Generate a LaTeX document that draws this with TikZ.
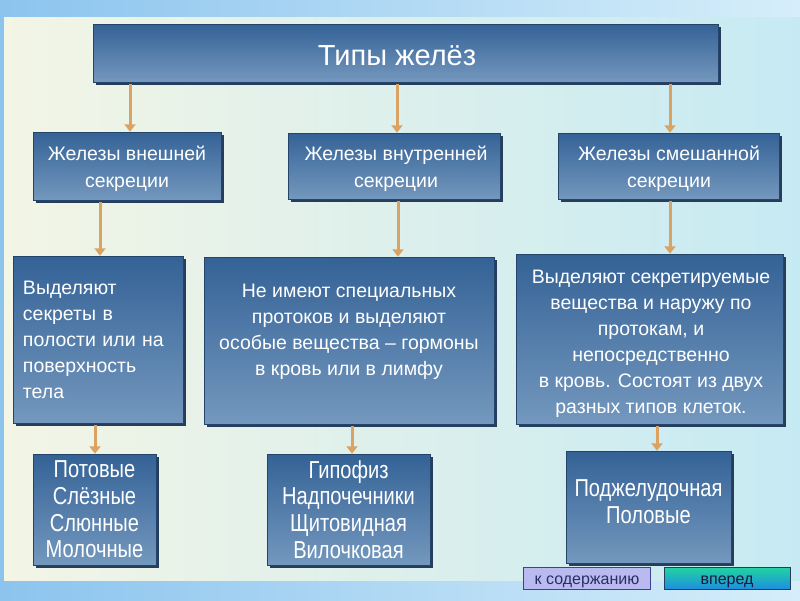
\documentclass[tikz,border=0pt]{standalone}
\usepackage{fontspec}
\setmainfont{Liberation Sans}
\newfontfamily\narrowfont[FakeStretch=0.82]{Liberation Sans}
\usetikzlibrary{arrows.meta,shadows}
\definecolor{boxtop}{RGB}{52,98,150}
\definecolor{boxbot}{RGB}{116,152,190}
\definecolor{shadowc}{RGB}{38,62,92}
\definecolor{arrowc}{RGB}{218,163,100}
\definecolor{outerL}{RGB}{140,196,238}
\definecolor{outerR}{RGB}{214,238,250}
\definecolor{panelL}{RGB}{243,245,229}
\definecolor{panelR}{RGB}{198,234,243}
\definecolor{btnone}{RGB}{184,186,240}
\definecolor{btnoneb}{RGB}{64,64,144}
\definecolor{btntop}{RGB}{34,212,160}
\definecolor{btnbot}{RGB}{30,142,224}
\tikzset{
  gbox/.style={rectangle, top color=boxtop, bottom color=boxbot, draw=boxtop!70!black, line width=0.5pt,
    text=white, inner sep=0pt, align=center,
    drop shadow={shadow xshift=2.5pt, shadow yshift=-2.5pt, opacity=1, fill=shadowc}},
  wtext/.style={text=white, align=center, inner sep=0pt},
  titlefont/.style={font=\fontsize{29}{34}\selectfont},
  midfont/.style={font=\fontsize{19.5}{27}\selectfont},
  bodyfont/.style={font=\fontsize{19.5}{26}\selectfont},
  listfont/.style={font=\narrowfont\fontsize{24.5}{26.7}\selectfont},
  conn/.style={draw=arrowc, line width=3pt, -{Triangle[width=11pt,length=7.5pt]}},
  btnfont/.style={font=\fontsize{16}{18}\selectfont},
}
\begin{document}
\begin{tikzpicture}[x=1pt,y=-1pt]
\useasboundingbox (0,0) rectangle (800,600);
% background
\shade[left color=outerL, right color=outerR] (0,0) rectangle (800,600);
\shade[left color=panelL, right color=panelR] (4,17) rectangle (800,580);

% title
\node[gbox, minimum width=625, minimum height=58] (title) at (405.5,53) {};
\node[wtext, titlefont] (titlet) at (397,56) {Типы желёз};

% level 2
\node[gbox, minimum width=188, minimum height=68] (b1) at (127,166) {};
\node[wtext, midfont] (b1t) at (127,169) {Железы внешней\\секреции};
\node[gbox, minimum width=212, minimum height=66] (b2) at (394,166) {};
\node[wtext, midfont] (b2t) at (396,169) {Железы внутренней\\секреции};
\node[gbox, minimum width=221, minimum height=66] (b3) at (668.5,166) {};
\node[wtext, midfont] (b3t) at (669,169) {Железы смешанной\\секреции};

% level 3
\node[gbox, bodyfont, align=left, text width=150, inner xsep=10, minimum height=167] (c1) at (98,339.5)
  {Выделяют\\секреты в\\полости или на\\поверхность\\тела};
\node[gbox, minimum width=290, minimum height=167] (c2) at (349,340.5) {};
\node[wtext, bodyfont] (c2t) at (349,332)
  {Не имеют специальных\\протоков и выделяют\\особые вещества – гормоны\\в кровь или в лимфу};
\node[gbox, minimum width=267, minimum height=170] (c3) at (649.5,339) {};
\node[wtext, bodyfont] (c3t) at (651,344)
  {Выделяют секретируемые\\вещества и наружу по\\протокам, и\\непосредственно\\в кровь. Состоят из двух\\разных типов клеток.};

% level 4
\node[gbox, listfont, minimum width=123, minimum height=111] (d1) at (94.5,509.5) {Потовые\\Слёзные\\Слюнные\\Молочные};
\node[gbox, listfont, minimum width=163, minimum height=111] (d2) at (348.5,509.5) {Гипофиз\\Надпочечники\\Щитовидная\\Вилочковая};
\node[gbox, minimum width=165, minimum height=112] (d3) at (648.5,507) {};
\node[wtext, listfont] (d3t) at (648.5,502) {Поджелудочная\\Половые};

% arrow columns
\coordinate (x1) at (130,0);
\coordinate (x2) at (397,0);
\coordinate (x3) at (670,0);
\coordinate (y1) at (100,0);
\coordinate (y2) at (398,0);
\coordinate (y3) at (670,0);
\coordinate (z1) at (95,0);
\coordinate (z2) at (352,0);
\coordinate (z3) at (657,0);

\draw[conn] ([yshift=-2pt]x1 |- title.south) -- (x1 |- b1.north);
\draw[conn] ([yshift=-2pt]x2 |- title.south) -- (x2 |- b2.north);
\draw[conn] ([yshift=-2pt]x3 |- title.south) -- (x3 |- b3.north);
\draw[conn] ([yshift=-2pt]y1 |- b1.south) -- (y1 |- c1.north);
\draw[conn] ([yshift=-2pt]y2 |- b2.south) -- (y2 |- c2.north);
\draw[conn] ([yshift=-2pt]y3 |- b3.south) -- (y3 |- c3.north);
\draw[conn] ([yshift=-2pt]z1 |- c1.south) -- (z1 |- d1.north);
\draw[conn] ([yshift=-2pt]z2 |- c2.south) -- (z2 |- d2.north);
\draw[conn] ([yshift=-2pt]z3 |- c3.south) -- (z3 |- d3.north);

% buttons
\node[rectangle, fill=btnone, draw=btnoneb, line width=1pt, minimum width=127, minimum height=22, inner sep=0pt] (btn1) at (586.5,578) {};
\node[btnfont, text=btnoneb!70!black, inner sep=0pt] (btn1t) at (587,581.5) {к содержанию};
\node[rectangle, top color=btntop, bottom color=btnbot, draw=shadowc, line width=1pt, minimum width=126, minimum height=22, inner sep=0pt] (btn2) at (727,578) {};
\node[btnfont, text=btnoneb!40!black, inner sep=0pt] (btn2t) at (727,581.5) {вперед};
\end{tikzpicture}
\end{document}
